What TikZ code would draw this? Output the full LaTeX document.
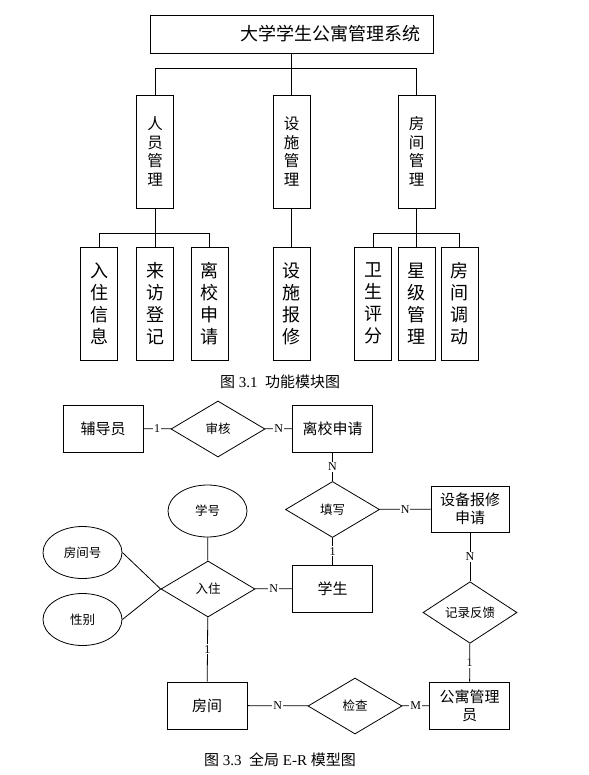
\documentclass[tikz,border=0pt]{standalone}
\usepackage{fontspec}
\setmainfont{Liberation Serif}
\newfontfamily\cjk{Noto Sans CJK SC}
\usetikzlibrary{shapes.geometric}
\begin{document}
\begin{tikzpicture}[x=1pt,y=-1pt,line width=0.8pt,
  box/.style={draw, rectangle, inner sep=0pt, align=center},
  vbox/.style={box, minimum width=37pt, minimum height=113pt},
  midtext/.style={font=\cjk\fontsize{15.5}{18.5}\selectfont},
  lowtext/.style={font=\cjk\fontsize{18}{22}\selectfont},
  ent/.style={box, minimum width=80pt, minimum height=47pt, font=\cjk\fontsize{15}{18}\selectfont},
  rel/.style={draw, diamond, inner sep=0pt, minimum width=94pt, minimum height=56pt, font=\cjk\fontsize{12.5}{14}\selectfont},
  attr/.style={draw, ellipse, inner sep=0pt, minimum width=79pt, minimum height=52pt, font=\cjk\fontsize{12.5}{14}\selectfont},
  lbl/.style={fill=white, inner sep=1pt, font=\fontsize{12}{12}\selectfont},
  captext/.style={font=\fontsize{15}{18}\selectfont}
]
\useasboundingbox (0,0) rectangle (588,775);
\fill[white] (0,0) rectangle (588,775);

% ---------- function module diagram ----------
\node[box, minimum width=283pt, minimum height=38pt] (title) at (291.5,34) {};
\node[font=\cjk\fontsize{18}{20}\selectfont] (titletext) at (330,34) {大学学生公寓管理系统};

\node[vbox, midtext] (p1) at (155,151.5) {人\\员\\管\\理};
\node[vbox, midtext] (p2) at (291.5,151.5) {设\\施\\管\\理};
\node[vbox, midtext] (p3) at (416.5,151.5) {房\\间\\管\\理};

\node[vbox, lowtext] (c1) at (99,303.5) {入\\住\\信\\息};
\node[vbox, lowtext] (c2) at (155,303.5) {来\\访\\登\\记};
\node[vbox, lowtext] (c3) at (209.5,303.5) {离\\校\\申\\请};
\node[vbox, lowtext] (c4) at (291.5,303.5) {设\\施\\报\\修};
\node[vbox, lowtext] (c5) at (373,303.5) {卫\\生\\评\\分};
\node[vbox, lowtext] (c6) at (416.5,303.5) {星\\级\\管\\理};
\node[vbox, lowtext] (c7) at (459.5,303.5) {房\\间\\调\\动};

\coordinate (j1) at (291.5,68);
\draw (title.south) -- (j1);
\draw (j1) -| (p1.north);
\draw (j1) -| (p3.north);
\draw (j1) -- (p2.north);

\coordinate (j2) at (155,233);
\draw (p1.south) -- (j2);
\draw (j2) -| (c1.north);
\draw (j2) -| (c3.north);
\draw (j2) -- (c2.north);

\draw (p2.south) -- (c4.north);

\coordinate (j3) at (416.5,233);
\draw (p3.south) -- (j3);
\draw (j3) -| (c5.north);
\draw (j3) -| (c7.north);
\draw (j3) -- (c6.north);

\node[captext] (cap1) at (280,382) {{\cjk 图}\ 3.1\ \ {\cjk 功能模块图}};

% ---------- E-R diagram ----------
\node[ent] (fdy) at (103,428.5) {辅导员};
\node[rel] (sh) at (218,429) {审核};
\node[ent] (lx) at (332.5,428.5) {离校申请};
\node[rel] (tx) at (332.5,509.5) {填写};
\node[ent, minimum width=78pt, minimum height=46pt] (sb) at (470,509) {设备报修\\申请};
\node[rel] (rz) at (208,589) {入住};
\node[ent] (xs) at (332.5,588.5) {学生};
\node[attr] (xh) at (207.5,511) {学号};
\node[attr] (fjh) at (82.5,552.5) {房间号};
\node[attr] (xb) at (82.5,619.5) {性别};
\node[rel] (jl) at (470,612.5) {记录反馈};
\node[ent] (fj) at (207,705.5) {房间};
\node[rel] (jc) at (355,706) {检查};
\node[ent] (gy) at (469.5,705.5) {公寓管理\\员};

\draw (fdy) -- node[lbl] {1} (sh);
\draw (sh) -- node[lbl] {N} (lx);
\draw (lx) -- node[lbl] {N} (tx);
\draw (tx) -- node[lbl] {N} (sb);
\draw (tx) -- node[lbl] {1} (xs);
\draw (xh) -- (rz);
\draw (fjh.east) -- (rz.west);
\draw (xb.east) -- (rz.west);
\draw (rz) -- node[lbl] {N} (xs);
\draw (rz) -- node[lbl] {1} (fj);
\draw (sb) -- node[lbl] {N} (jl);
\draw (jl) -- node[lbl] {1} (gy);
\draw (fj) -- node[lbl] {N} (jc);
\draw (jc) -- node[lbl] {M} (gy);

\node[captext] (cap2) at (280,760) {{\cjk 图}\ 3.3\ \ {\cjk 全局}\ E-R\ {\cjk 模型图}};
\end{tikzpicture}
\end{document}
